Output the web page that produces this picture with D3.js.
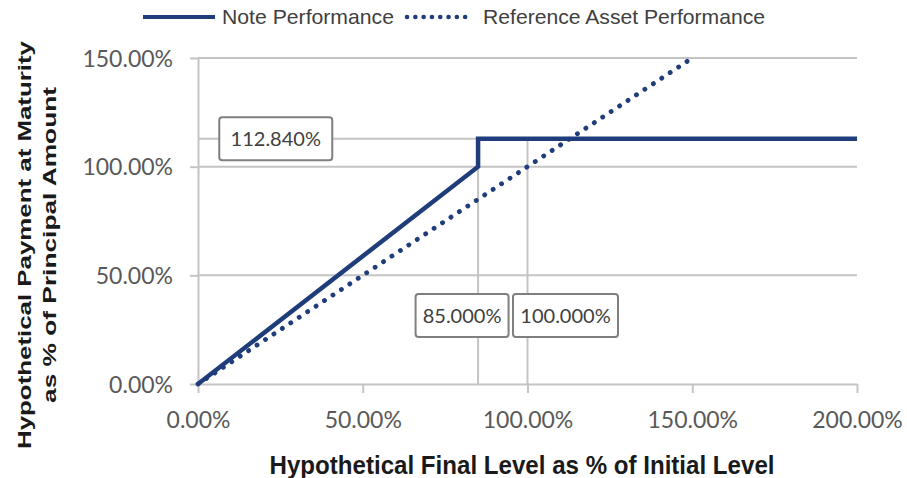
<!DOCTYPE html>
<html>
<head>
<meta charset="utf-8">
<script src="https://cdn.jsdelivr.net/npm/d3@7"></script>
<style>
  body { margin: 0; background: #fff; }
  svg { display: block; }
</style>
</head>
<body>
<svg id="chart"></svg>
<script>
// данные графика
const xTicks = [0, 50, 100, 150, 200]
const yTicks = [0, 50, 100, 150]
const noteX = [0, 85, 85, 200]
const noteY = [0, 100, 112.84, 112.84]
const refX = [0, 150]
const refY = [0, 150]
const capLevel = 112.84
const markerLevels = [85, 100]
const boxLabels = ['112.840%', '85.000%', '100.000%']
const seriesNames = ['Note Performance', 'Reference Asset Performance']

const width = 907
const height = 478
const plotLeft = 198
const plotRight = 857
const plotTop = 58
const plotBottom = 384
const navy = '#1f3d7a'
const grid = '#c4c4c4'

let svg = d3.select('#chart').attr('width', width).attr('height', height)

let scaleX = d3.scaleLinear().domain([0, 200]).range([plotLeft, plotRight])
let scaleY = d3.scaleLinear().domain([0, 150]).range([plotBottom, plotTop])
let fmt = v => d3.format('.2f')(v) + '%'

// горизонтальные линии сетки
svg.append('g')
  .selectAll('line')
  .data(yTicks.filter(v => v > 0).concat([capLevel]))
  .enter()
  .append('line')
  .attr('x1', plotLeft).attr('x2', plotRight)
  .attr('y1', d => scaleY(d)).attr('y2', d => scaleY(d))
  .attr('stroke', grid).attr('stroke-width', 2)

// вертикальные линии 85% и 100%
svg.append('g')
  .selectAll('line')
  .data(markerLevels)
  .enter()
  .append('line')
  .attr('x1', d => scaleX(d)).attr('x2', d => scaleX(d))
  .attr('y1', scaleY(capLevel)).attr('y2', scaleY(0))
  .attr('stroke', grid).attr('stroke-width', 2)

// оси
let axisY = d3.axisLeft(scaleY).tickValues(yTicks).tickFormat(fmt)
  .tickSizeInner(8).tickSizeOuter(0).tickPadding(17)
let axisX = d3.axisBottom(scaleX).tickValues(xTicks).tickFormat(fmt)
  .tickSizeInner(9).tickSizeOuter(0).tickPadding(19)

let gY = svg.append('g').attr('transform', `translate(${plotLeft},0)`).call(axisY)
let gX = svg.append('g').attr('transform', `translate(0,${plotBottom})`).call(axisX)

;[gX, gY].forEach(g => {
  g.selectAll('path, line').attr('stroke', grid).attr('stroke-width', 2)
  g.selectAll('text')
    .attr('fill', '#595959')
    .style('font-family', 'Lato, sans-serif')
    .style('font-size', '23px')
})
gY.selectAll('text').attr('dy', '0.36em')

// линии графика
let line = d3.line().x(d => scaleX(d[0])).y(d => scaleY(d[1]))

svg.append('path')
  .datum(refX.map((x, i) => [x, refY[i]]))
  .attr('d', line)
  .attr('fill', 'none')
  .attr('stroke', navy)
  .attr('stroke-width', 4.8)
  .attr('stroke-linecap', 'round')
  .attr('stroke-dasharray', '0.1 10')

svg.append('path')
  .datum(noteX.map((x, i) => [x, noteY[i]]))
  .attr('d', line)
  .attr('fill', 'none')
  .attr('stroke', navy)
  .attr('stroke-width', 4.5)
  .attr('stroke-linejoin', 'miter')

// подписи в рамках
let boxes = [
  { text: boxLabels[0], cx: scaleX(23.6), cy: scaleY(capLevel), w: 113 },
  { text: boxLabels[1], cx: scaleX(markerLevels[0]) - 16, cy: scaleY(31.5), w: 93 },
  { text: boxLabels[2], cx: scaleX(markerLevels[1]) + 38, cy: scaleY(31.5), w: 105 }
]
let gb = svg.append('g')
  .selectAll('g')
  .data(boxes)
  .enter()
  .append('g')
  .attr('transform', d => `translate(${d.cx},${d.cy})`)
gb.append('rect')
  .attr('x', d => -d.w / 2).attr('y', -21.5)
  .attr('width', d => d.w).attr('height', 43)
  .attr('rx', 3)
  .attr('fill', '#fff')
  .attr('stroke', '#7f7f7f')
  .attr('stroke-width', 2)
gb.append('text')
  .attr('text-anchor', 'middle')
  .attr('dy', '0.36em')
  .attr('fill', '#404040')
  .style('font-family', 'Lato, sans-serif')
  .style('font-size', '20px')
  .text(d => d.text)

// легенда
let lg = svg.append('g')
lg.append('line')
  .attr('x1', 143).attr('x2', 215).attr('y1', 17).attr('y2', 17)
  .attr('stroke', navy).attr('stroke-width', 4)
lg.append('text')
  .attr('x', 222).attr('y', 24)
  .attr('textLength', 172).attr('lengthAdjust', 'spacingAndGlyphs')
  .attr('fill', '#404040')
  .style('font-family', 'Liberation Sans, Arial, sans-serif')
  .style('font-size', '21px')
  .text(seriesNames[0])
lg.append('line')
  .attr('x1', 407).attr('x2', 473).attr('y1', 17).attr('y2', 17)
  .attr('stroke', navy).attr('stroke-width', 4.5)
  .attr('stroke-linecap', 'round')
  .attr('stroke-dasharray', '0.1 8.2')
lg.append('text')
  .attr('x', 483).attr('y', 24)
  .attr('textLength', 282).attr('lengthAdjust', 'spacingAndGlyphs')
  .attr('fill', '#404040')
  .style('font-family', 'Liberation Sans, Arial, sans-serif')
  .style('font-size', '21px')
  .text(seriesNames[1])

// подписи осей
svg.append('text')
  .attr('x', 522).attr('y', 465)
  .attr('text-anchor', 'middle')
  .attr('dy', '0.36em')
  .attr('textLength', 505).attr('lengthAdjust', 'spacingAndGlyphs')
  .attr('fill', '#1a1a1a')
  .style('font-family', 'Liberation Sans, Arial, sans-serif')
  .style('font-weight', 'bold')
  .style('font-size', '25px')
  .text('Hypothetical Final Level as % of Initial Level')

let gt = svg.append('g')
  .attr('transform', 'translate(36.5,245) scale(0.72,1) rotate(-90)')
gt.selectAll('text')
  .data([['Hypothetical Payment at Maturity', -17.5, 408], ['as % of Principal Amount', 17.5, 316]])
  .enter()
  .append('text')
  .attr('x', 0).attr('y', d => d[1])
  .attr('dy', '0.36em')
  .attr('text-anchor', 'middle')
  .attr('textLength', d => d[2]).attr('lengthAdjust', 'spacingAndGlyphs')
  .attr('fill', '#1a1a1a')
  .style('font-family', 'Liberation Sans, Arial, sans-serif')
  .style('font-weight', 'bold')
  .style('font-size', '25.5px')
  .text(d => d[0])
</script>
</body>
</html>
